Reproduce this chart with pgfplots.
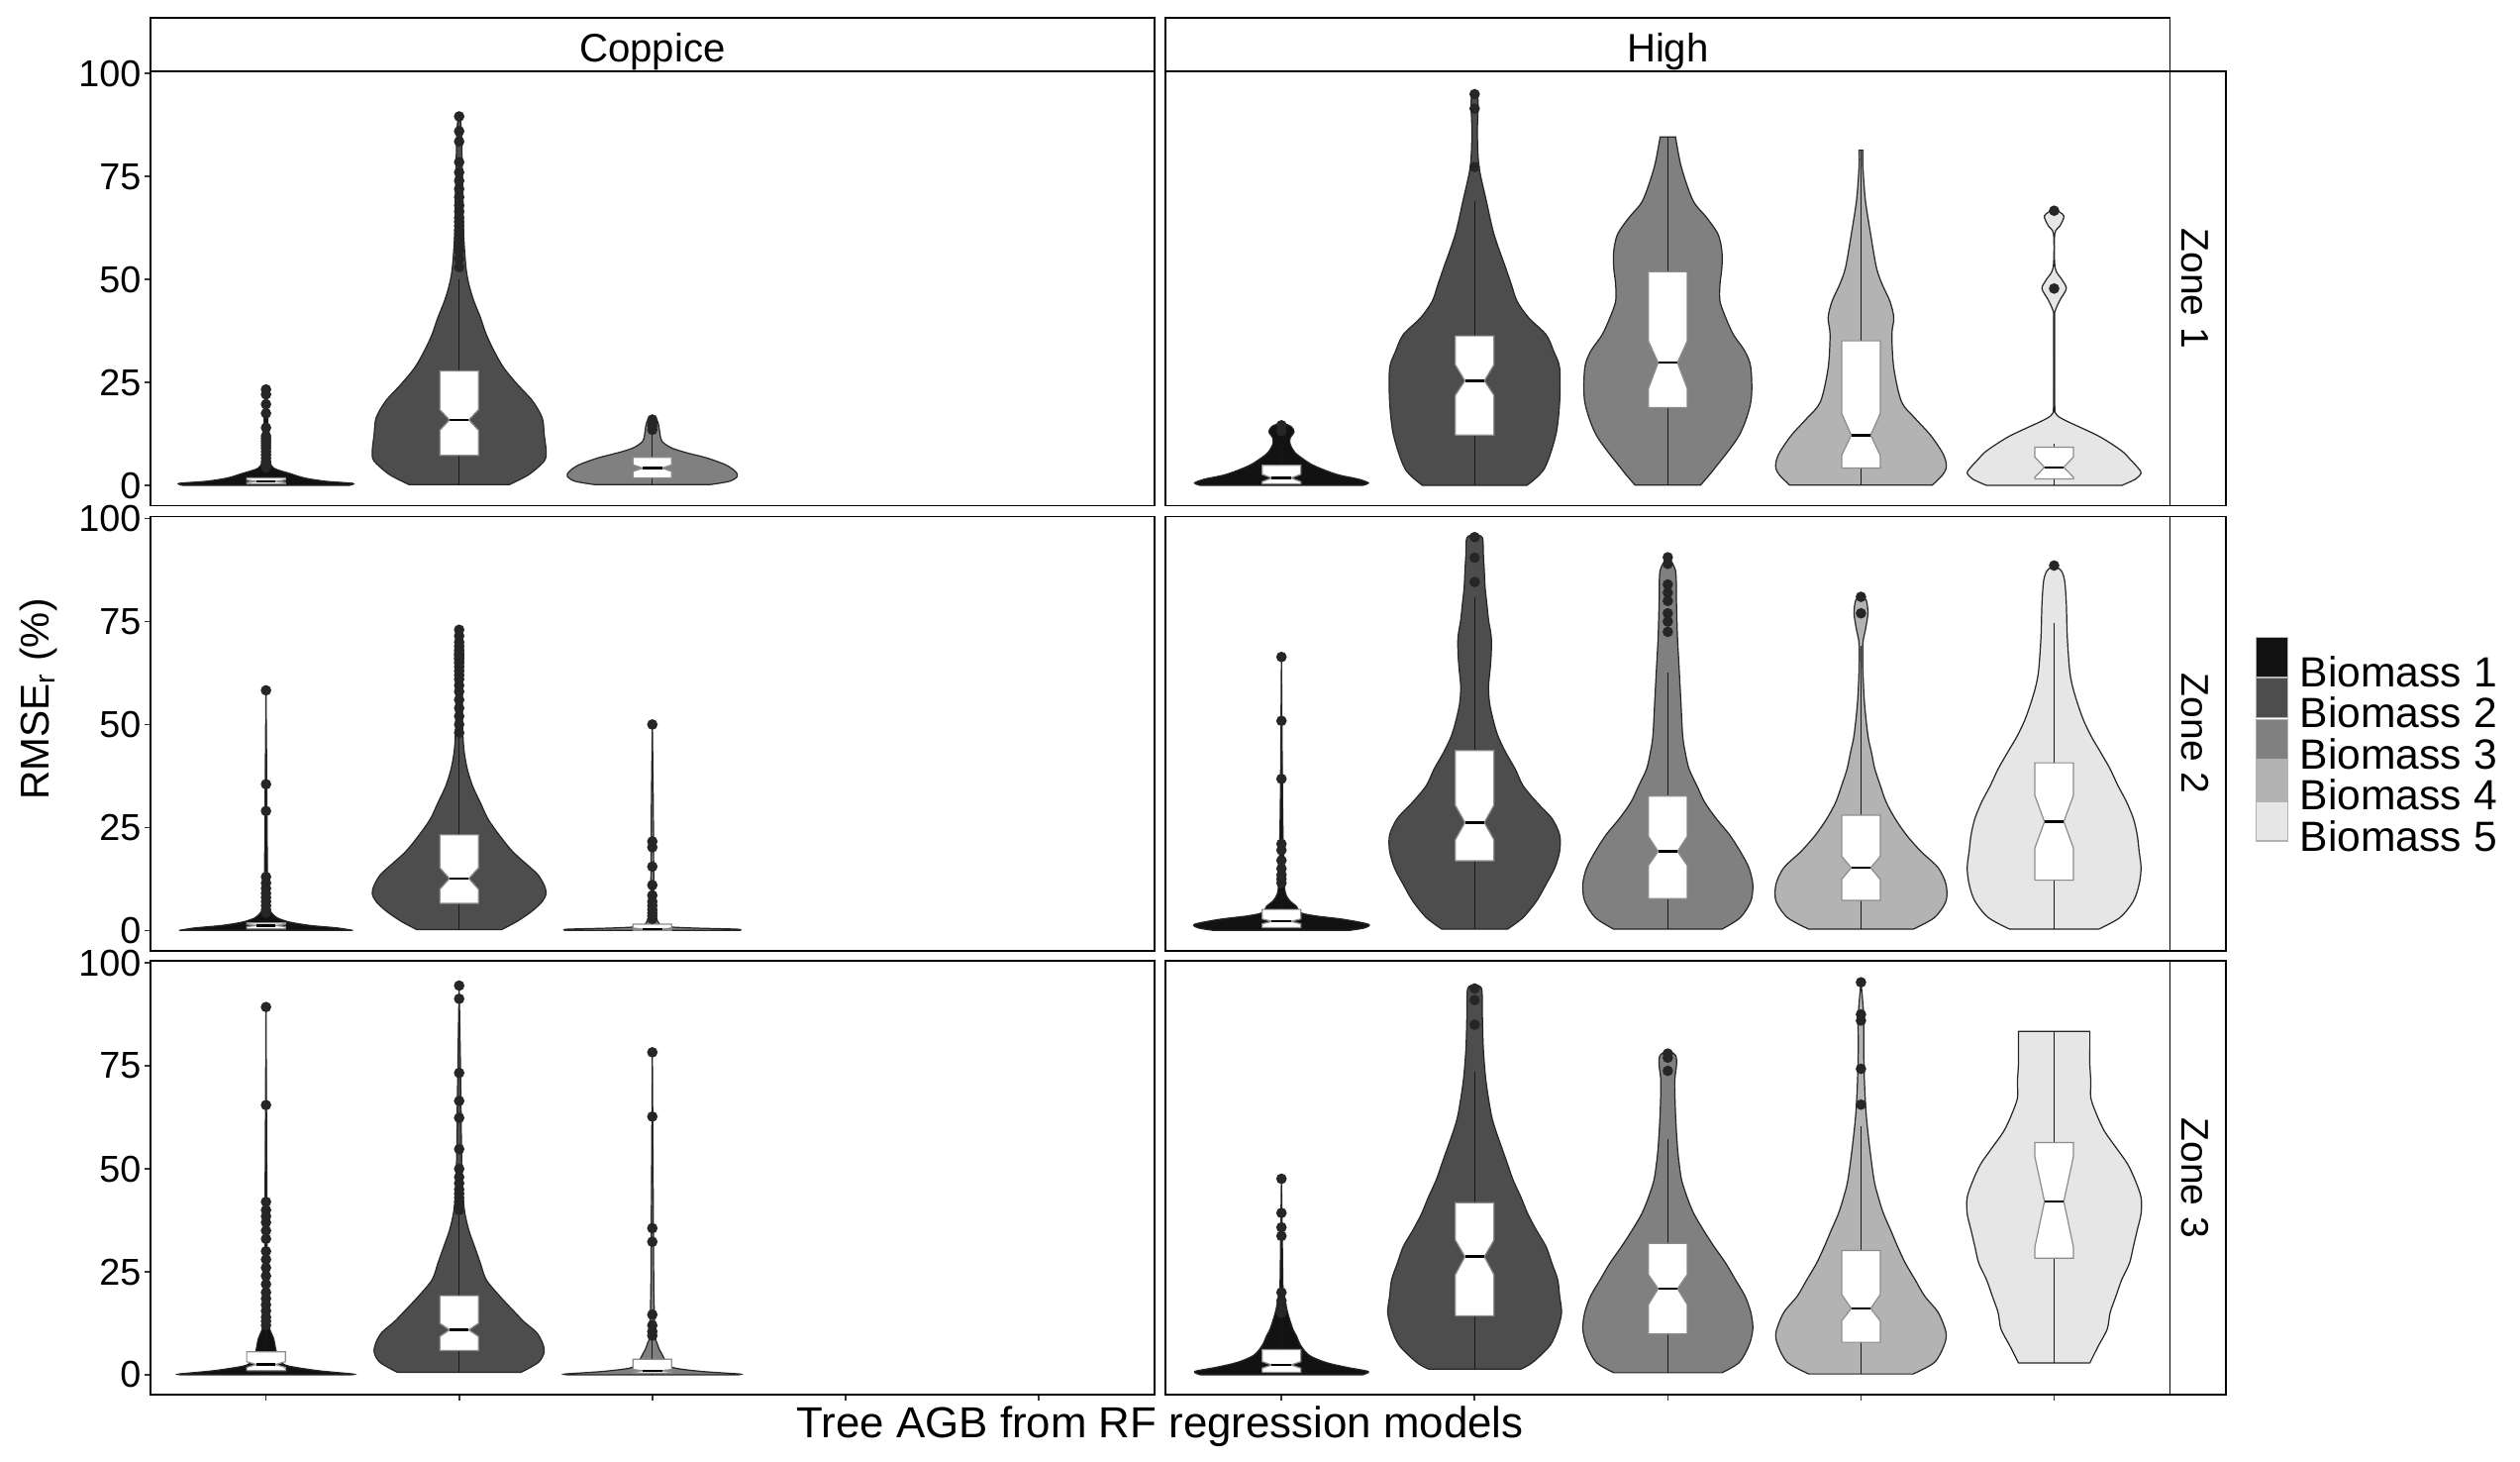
\documentclass[border=0pt]{standalone}
\usepackage{fontspec}
\setmainfont{Liberation Sans}
\usepackage{pgfplots}
\usepackage{pgfplotstable}
\usepgfplotslibrary{fillbetween}
\pgfplotsset{compat=1.18}

\definecolor{bmA}{HTML}{121212}
\definecolor{bmB}{HTML}{4D4D4D}
\definecolor{bmC}{HTML}{808080}
\definecolor{bmD}{HTML}{B3B3B3}
\definecolor{bmE}{HTML}{E6E6E6}

% violin profiles: y = RMSEr, w = half width (x units)
% ---- Coppice, Zone 1
\pgfplotstableread{
y w
0 0.43
0.5 0.45
1.0 0.31
1.8 0.20
2.8 0.13
4.2 0.04
6 0.02
10 0.015
15 0.01
20 0.008
23.3 0
}\cIa
\pgfplotstableread{
y w
0.2 0.26
2.6 0.36
5.9 0.44
8.3 0.45
12.4 0.44
16.4 0.43
20.5 0.38
24.6 0.30
28.6 0.23
32.7 0.18
36.7 0.14
40.8 0.11
44.9 0.075
48.9 0.05
53 0.035
61.1 0.023
69.3 0.02
77.4 0.016
85.5 0.012
89.6 0.005
90 0
}\cIb
\pgfplotstableread{
y w
0.2 0.30
1 0.40
2.2 0.44
3.4 0.43
5 0.38
6.7 0.28
7.9 0.18
9.1 0.10
10.7 0.05
12.4 0.04
14 0.035
15.6 0.027
16.6 0
}\cIc
% ---- Coppice, Zone 2
\pgfplotstableread{
y w
0 0.45
0.6 0.37
1.2 0.23
2 0.125
3 0.06
4.2 0.03
5.4 0.016
7.8 0.012
11 0.008
30 0.005
58.3 0
}\cIIa
\pgfplotstableread{
y w
0.2 0.22
2.2 0.30
4.6 0.375
7 0.43
9 0.45
11 0.44
13.4 0.41
15 0.375
19 0.28
23 0.21
27 0.15
31 0.11
35 0.07
39 0.043
43 0.027
47 0.02
55 0.016
63 0.02
67 0.023
71 0.016
73.7 0
}\cIIb
\pgfplotstableread{
y w
0 0.45
0.3 0.44
0.6 0.2
1 0.06
2 0.03
3 0.02
5 0.012
10 0.008
30 0.005
50 0
}\cIIc
% ---- Coppice, Zone 3
\pgfplotstableread{
y w
0 0.44
0.2 0.45
1 0.27
2.1 0.12
3 0.08
4.7 0.06
6.3 0.05
8.7 0.04
11 0.02
12.7 0.012
15 0.008
40 0.005
89.3 0
}\cIIIa
\pgfplotstableread{
y w
0.6 0.32
3 0.41
5.5 0.44
7.9 0.43
10.3 0.40
12.7 0.34
15.1 0.29
19.1 0.21
23.1 0.14
27.1 0.11
31.1 0.08
35.1 0.05
39.1 0.03
43.1 0.02
47.2 0.016
55.2 0.012
71.2 0.008
94.5 0
}\cIIIb
\pgfplotstableread{
y w
0 0.44
0.2 0.45
0.8 0.26
1.6 0.12
2.6 0.074
3.8 0.063
5 0.05
6.3 0.035
7.9 0.023
9.5 0.015
20 0.008
40 0.005
78.3 0
}\cIIIc
% ---- High, Zone 1
\pgfplotstableread{
y w
0 0.42
0.6 0.45
1.5 0.40
2.5 0.30
3.6 0.23
5 0.16
6.5 0.11
8 0.07
10 0.045
11.5 0.045
13 0.065
14.3 0.05
15.3 0
}\hIa
\pgfplotstableread{
y w
0 0.27
4 0.36
12.2 0.42
20.3 0.44
28.5 0.44
32.5 0.41
36.6 0.37
40.7 0.28
44.7 0.22
48.8 0.19
52.9 0.16
61 0.10
69.2 0.06
77.3 0.023
85.4 0.014
93.6 0.018
95.2 0
}\hIb
\pgfplotstableread{
y w
0.1 0.17
4 0.24
12.2 0.37
20.3 0.43
28.5 0.43
32.5 0.40
36.6 0.34
40.7 0.30
44.7 0.27
48.8 0.27
52.9 0.28
56.9 0.28
61 0.26
65.1 0.20
69.2 0.13
77.3 0.07
84.6 0.04
}\hIc
\pgfplotstableread{
y w
0.1 0.37
2.4 0.42
4 0.44
5.7 0.44
8.1 0.42
12.2 0.36
16.3 0.28
20.3 0.21
28.5 0.17
36.6 0.16
40.7 0.17
44.7 0.15
48.8 0.11
52.9 0.08
61 0.05
69.2 0.023
77.3 0.01
81.4 0.01
}\hId
\pgfplotstableread{
y w
0 0.35
1.5 0.42
3 0.45
4.5 0.43
6 0.40
8 0.36
10 0.30
12 0.23
14 0.14
15.5 0.07
16.5 0.03
17.5 0.008
20 0.003
40 0.003
42.3 0.005
45 0.03
47.8 0.063
50 0.04
52.9 0.005
61 0.003
63 0.03
65.5 0.05
67.1 0
}\hIe
% ---- High, Zone 2
\pgfplotstableread{
y w
0 0.35
0.6 0.43
1.5 0.45
2.7 0.32
3.5 0.18
4.3 0.10
5.9 0.077
7.1 0.045
8.7 0.023
11.2 0.014
15.2 0.012
30 0.006
66.4 0
}\hIIa
\pgfplotstableread{
y w
0.3 0.17
3.1 0.25
7.1 0.32
11.2 0.37
15.2 0.415
19.2 0.44
23.2 0.44
27.2 0.40
31.2 0.32
35.2 0.25
39.2 0.21
43.3 0.16
47.3 0.12
51.3 0.095
55.3 0.077
59.3 0.072
63.3 0.08
67.3 0.086
71.3 0.086
75.4 0.072
79.4 0.063
83.4 0.054
87.4 0.05
91.4 0.045
95.4 0.04
96.1 0
}\hIIb
\pgfplotstableread{
y w
0.3 0.28
3.1 0.375
7.1 0.43
11.2 0.44
15.2 0.42
19.2 0.375
23.2 0.32
27.2 0.25
31.2 0.19
35.2 0.15
39.2 0.11
43.3 0.09
47.3 0.077
55.3 0.068
63.3 0.059
71.3 0.05
79.4 0.045
87.4 0.04
90.6 0
}\hIIc
\pgfplotstableread{
y w
0.3 0.27
3.1 0.38
7.1 0.44
11.2 0.44
15.2 0.40
19.2 0.31
23.2 0.235
27.2 0.176
31.2 0.13
35.2 0.10
39.2 0.072
43.3 0.054
47.3 0.036
55.3 0.018
63.3 0.01
69.7 0.01
73 0.023
77 0.036
80.2 0.027
81.4 0
}\hIId
\pgfplotstableread{
y w
0.3 0.23
3.1 0.34
7.1 0.41
11.2 0.44
15.2 0.45
19.2 0.44
23.2 0.43
27.2 0.41
31.2 0.375
35.2 0.33
39.2 0.29
43.3 0.24
47.3 0.19
51.3 0.15
55.3 0.12
59.3 0.095
63.3 0.08
71.3 0.068
79.4 0.063
85 0.054
87.4 0.036
88.6 0
}\hIIe
% ---- High, Zone 3
\pgfplotstableread{
y w
0 0.42
0.8 0.45
1.8 0.34
3 0.23
4.7 0.145
7.1 0.10
9.5 0.077
11.1 0.059
15.1 0.032
19.1 0.014
20.7 0.008
30 0.005
47.6 0
}\hIIIa
\pgfplotstableread{
y w
1.4 0.24
3 0.30
7.1 0.39
11.1 0.43
15.1 0.45
19.1 0.44
23.1 0.43
27.1 0.40
31.1 0.37
35.1 0.32
39.1 0.275
43.1 0.24
47.2 0.20
51.2 0.17
55.2 0.14
59.2 0.11
63.2 0.086
71.2 0.059
79.2 0.045
87.3 0.04
93.8 0.036
94.5 0
}\hIIIb
\pgfplotstableread{
y w
0.5 0.28
3 0.37
7.1 0.42
11.1 0.44
15.1 0.43
19.1 0.40
23.1 0.35
27.1 0.30
31.1 0.24
35.1 0.185
39.1 0.135
43.1 0.10
47.2 0.072
51.2 0.059
55.2 0.05
63.2 0.04
71.2 0.036
75.2 0.045
77.6 0.04
78.8 0
}\hIIIc
\pgfplotstableread{
y w
0.2 0.27
3 0.38
7.1 0.43
10.3 0.44
15.1 0.40
19.1 0.33
23.1 0.28
27.1 0.23
31.1 0.19
35.1 0.154
39.1 0.117
43.1 0.09
47.2 0.068
55.2 0.045
63.2 0.027
71.2 0.018
79.2 0.014
87.3 0.014
95.3 0
}\hIIId
\pgfplotstableread{
y w
2.9 0.185
7.1 0.23
11.1 0.275
15.1 0.29
19.1 0.32
23.1 0.35
27.1 0.39
31.1 0.41
35.1 0.43
39.1 0.45
43.1 0.45
47.2 0.42
51.2 0.38
55.2 0.32
59.2 0.26
63.2 0.22
67.2 0.19
71.2 0.19
75.2 0.185
79.2 0.185
83.4 0.185
}\hIIIe

% violin: position, colour, table
\newcommand{\violin}[3]{%
  \addplot[draw=none, smooth, forget plot, name path=r#1] table[x expr={#1+\thisrow{w}}, y=y] {#3};
  \addplot[draw=none, smooth, forget plot, name path=l#1] table[x expr={#1-\thisrow{w}}, y=y] {#3};
  \addplot[fill=#2, draw=black!85, line width=0.3pt, forget plot] fill between[of=r#1 and l#1, reverse=true];
}
% notched box: pos, whisker low, q1, notch low, median, notch high, q3, whisker high
\newcommand{\nbox}[8]{%
  \pgfmathsetmacro\bxa{#1-0.1}\pgfmathsetmacro\bxb{#1+0.1}%
  \pgfmathsetmacro\bna{#1-0.05}\pgfmathsetmacro\bnb{#1+0.05}%
  \addplot[black!90, line width=0.3pt, forget plot] coordinates {(#1,#2) (#1,#8)};
  \addplot[fill=white, draw=black!45, line width=0.3pt, forget plot] coordinates {(\bxa,#3) (\bxa,#4) (\bna,#5) (\bxa,#6) (\bxa,#7) (\bxb,#7) (\bxb,#6) (\bnb,#5) (\bxb,#4) (\bxb,#3) (\bxa,#3)};
  \addplot[black, line width=0.6pt, forget plot] coordinates {(\bna,#5) (\bnb,#5)};
}
\newcommand{\outl}[1]{\addplot[only marks, mark=*, mark size=1.1pt, black!85, forget plot] coordinates {#1};}
\newcommand{\topstrip}[1]{%
  \draw[line width=0.45pt] (rel axis cs:0,1) rectangle (rel axis cs:1,1.123);
  \node[anchor=base, inner sep=0pt, font=\fontsize{9.9}{9.9}\selectfont] at (rel axis cs:0.5,1.0222) {#1};}
\newcommand{\sidestrip}[1]{%
  \draw[line width=0.45pt] (rel axis cs:1,0) rectangle (rel axis cs:1.05536,1);
  \node[rotate=-90, anchor=base, inner sep=0pt, font=\fontsize{9.6}{9.6}\selectfont] at (rel axis cs:1.0117,0.5) {#1};}

\pgfplotsset{
  panel/.style={
    scale only axis, width=250pt, height=108pt, anchor=south west,
    xmin=0.4, xmax=5.6, ymin=-4.9, ymax=100.5, clip=false,
    axis line style={line width=0.45pt, black},
    tick align=outside, major tick length=1.3pt, tick pos=left,
    tick style={line width=0.4pt, black!80},
    xtick=\empty, ytick=\empty,
    /pgf/number format/assume math mode=true,
    yticklabel style={font=\fontsize{9.3}{9.3}\selectfont, inner sep=0pt, xshift=-0.8pt},
  },
  ylab/.style={ytick={0,25,50,75,100}},
  xlab/.style={xtick={1,2,3,4,5}, xticklabels={\mbox{},\mbox{},\mbox{},\mbox{},\mbox{}}},
}

\begin{document}
\begin{tikzpicture}

% ===== Coppice, Zone 1
\begin{axis}[panel, ylab, at={(37.36pt,237.8pt)}]
  \violin{1}{bmA}{\cIa}
  \nbox{1}{0}{0.4}{0.7}{1.0}{1.3}{1.8}{3.9}
  \outl{(1,23.3)(1,22.1)(1,19.7)(1,17.5)(1,14)(1,12)(1,11.4)(1,10.8)(1,10.2)(1,9.6)(1,9)(1,8.2)(1,7.4)(1,6.6)(1,5.8)(1,5)(1,4.4)}
  \violin{2}{bmB}{\cIb}
  \nbox{2}{0.2}{7.3}{13.4}{15.9}{18.4}{27.8}{50}
  \outl{(2,53)(2,55)(2,57)(2,58.5)(2,60)(2,61)(2,62)(2,63)(2,64)(2,65)(2,66.5)(2,68)(2,70)(2,72)(2,74)(2,76)(2,78.5)(2,83.5)(2,86)(2,89.6)}
  \violin{3}{bmC}{\cIc}
  \nbox{3}{0.2}{1.8}{3.4}{4.2}{5.0}{6.8}{13}
  \outl{(3,13.5)(3,14.5)(3,15.3)(3,16)}
  \topstrip{Coppice}
\end{axis}

% ===== High, Zone 1
\begin{axis}[panel, at={(290.1pt,237.8pt)}]
  \violin{1}{bmA}{\hIa}
  \nbox{1}{0}{0.4}{0.9}{1.8}{2.7}{4.9}{10}
  \outl{(1,14.6)(1,13.2)}
  \violin{2}{bmB}{\hIb}
  \nbox{2}{0}{12.2}{21.9}{25.4}{29.3}{36.3}{69}
  \outl{(2,95)(2,91.5)(2,77.3)}
  \violin{3}{bmC}{\hIc}
  \nbox{3}{0.1}{18.9}{23.6}{29.8}{35}{51.9}{84.6}
  \violin{4}{bmD}{\hId}
  \nbox{4}{0.1}{4.2}{7.3}{12.2}{17.5}{35.1}{81.4}
  \violin{5}{bmE}{\hIe}
  \nbox{5}{0}{1.6}{2.0}{4.4}{6.9}{9.3}{10}
  \outl{(5,47.8)(5,66.7)}
  \topstrip{High}
  \sidestrip{Zone 1}
\end{axis}

% ===== Coppice, Zone 2
\begin{axis}[panel, ylab, at={(37.36pt,127.08pt)}]
  \violin{1}{bmA}{\cIIa}
  \nbox{1}{0}{0.4}{0.9}{1.2}{1.5}{1.8}{4}
  \outl{(1,58.3)(1,35.5)(1,29)(1,13)(1,11.5)(1,10.2)(1,9)(1,8)(1,7)(1,6)(1,5)(1,4.3)}
  \violin{2}{bmB}{\cIIb}
  \nbox{2}{0.2}{6.6}{10}{12.6}{15.2}{23.2}{47}
  \outl{(2,48)(2,50)(2,52)(2,54)(2,56)(2,58)(2,59.5)(2,61)(2,62)(2,63)(2,64)(2,65)(2,66)(2,67)(2,68)(2,69)(2,70)(2,71.5)(2,73)}
  \violin{3}{bmC}{\cIIc}
  \nbox{3}{0}{0}{0.1}{0.3}{0.6}{1.5}{3.5}
  \outl{(3,50)(3,21.6)(3,20.2)(3,15.5)(3,11)(3,8.5)(3,7)(3,6)(3,5)(3,4.2)(3,3.5)(3,2.8)}
  \node[rotate=90, font=\fontsize{10}{10}\selectfont] at (rel axis cs:-0.111,0.5789) {RMSE\textsubscript{r} (\%)};
\end{axis}

% ===== High, Zone 2 (carries the legend)
\begin{axis}[panel, at={(290.1pt,127.08pt)},
  legend style={at={(1.0851,0.7233)}, anchor=north west, draw=none, fill=none,
    inner sep=0pt, outer sep=0pt, row sep=-3.5pt,
    font=\fontsize{10.5}{10.5}\selectfont,
    nodes={inner sep=0pt, outer sep=0pt, text height=8.64pt, text depth=1.2pt},
    /tikz/every odd column/.append style={column sep=3pt}},
  legend cell align=left,
  legend image code/.code={\draw[#1, draw=black!30, line width=0.3pt] (0pt,-1.2pt) rectangle (7.8pt,8.64pt);}]
  \addlegendimage{fill=bmA}\addlegendentry{Biomass 1}
  \addlegendimage{fill=bmB}\addlegendentry{Biomass 2}
  \addlegendimage{fill=bmC}\addlegendentry{Biomass 3}
  \addlegendimage{fill=bmD}\addlegendentry{Biomass 4}
  \addlegendimage{fill=bmE}\addlegendentry{Biomass 5}
  \violin{1}{bmA}{\hIIa}
  \nbox{1}{0}{0.7}{1.6}{2.2}{2.8}{5.1}{11}
  \outl{(1,66.4)(1,50.9)(1,36.8)(1,21)(1,19.5)(1,17)(1,15)(1,13.5)(1,12.5)(1,11.5)}
  \violin{2}{bmB}{\hIIb}
  \nbox{2}{0.3}{16.9}{22}{26.2}{30.4}{43.7}{81}
  \outl{(2,95.5)(2,90.5)(2,84.6)}
  \violin{3}{bmC}{\hIIc}
  \nbox{3}{0.3}{7.7}{15.8}{19.2}{22.8}{32.6}{62.5}
  \outl{(3,90.6)(3,89)(3,84)(3,82)(3,80)(3,77)(3,75)(3,72.5)}
  \violin{4}{bmD}{\hIId}
  \nbox{4}{0.3}{7.3}{12.4}{15.2}{18}{28}{69}
  \outl{(4,81)(4,77)}
  \violin{5}{bmE}{\hIIe}
  \nbox{5}{0.3}{12.2}{20}{26.4}{32.8}{40.7}{74.6}
  \outl{(5,88.6)}
  \sidestrip{Zone 2}
\end{axis}

% ===== Coppice, Zone 3
\begin{axis}[panel, ylab, xlab, at={(37.36pt,16.52pt)}]
  \violin{1}{bmA}{\cIIIa}
  \nbox{1}{0}{1}{1.8}{2.5}{3.2}{5.6}{12}
  \outl{(1,89.3)(1,65.5)(1,42)(1,40)(1,38.5)(1,37)(1,35)(1,33)(1,30)(1,28)(1,26)(1,24)(1,22)(1,20)(1,18.5)(1,17)(1,15.5)(1,14)(1,13)(1,12)}
  \violin{2}{bmB}{\cIIIb}
  \nbox{2}{0.6}{5.9}{9.3}{10.9}{12.5}{19.2}{39}
  \outl{(2,94.5)(2,91.3)(2,73.3)(2,66.5)(2,62.4)(2,54.8)(2,50)(2,48)(2,46.5)(2,45)(2,44)(2,43)(2,42)(2,41)(2,40)}
  \violin{3}{bmC}{\cIIIc}
  \nbox{3}{0}{0.4}{0.7}{1}{1.3}{3.8}{8.8}
  \outl{(3,78.3)(3,62.7)(3,35.6)(3,32.3)(3,14.6)(3,12)(3,10.5)(3,9.5)}
  \node[anchor=base, inner sep=0pt, font=\fontsize{10.8}{10.8}\selectfont] at (rel axis cs:1.0056,-0.0989) {Tree AGB from RF regression models};
\end{axis}

% ===== High, Zone 3
\begin{axis}[panel, xlab, at={(290.1pt,16.52pt)}]
  \violin{1}{bmA}{\hIIIa}
  \nbox{1}{0}{0.6}{1.6}{2.4}{3.2}{6.1}{14}
  \outl{(1,47.6)(1,39.3)(1,35.8)(1,33.7)(1,20)(1,18)(1,17)(1,16)(1,15)}
  \violin{2}{bmB}{\hIIIb}
  \nbox{2}{1.4}{14.3}{24.3}{28.7}{32.7}{41.8}{73.6}
  \outl{(2,93.8)(2,91)(2,85)}
  \violin{3}{bmC}{\hIIIc}
  \nbox{3}{0.5}{9.9}{17.1}{20.9}{24.3}{31.9}{57.2}
  \outl{(3,78)(3,77)(3,73.8)}
  \violin{4}{bmD}{\hIIId}
  \nbox{4}{0.2}{7.9}{13.1}{16.1}{19.5}{30.2}{60.4}
  \outl{(4,95.3)(4,87.5)(4,86)(4,74.3)(4,65.6)}
  \violin{5}{bmE}{\hIIIe}
  \nbox{5}{2.9}{28.3}{31}{42.1}{53}{56.4}{83.4}
  \sidestrip{Zone 3}
\end{axis}

\pgfresetboundingbox
\path (0,0) rectangle (627.2pt,363.6pt);
\end{tikzpicture}
\end{document}
